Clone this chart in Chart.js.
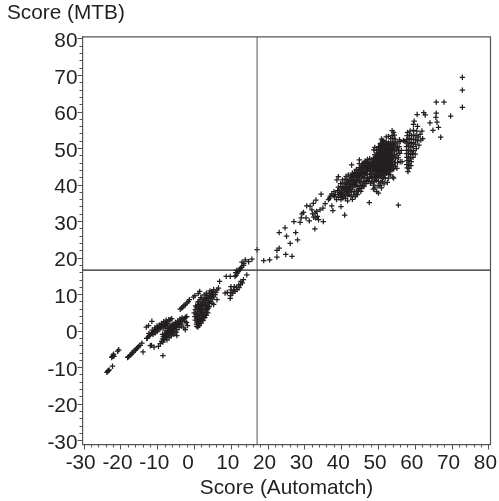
<!DOCTYPE html>
<html><head><meta charset="utf-8">
<style>html,body{margin:0;padding:0;background:#fff}canvas{display:block}</style>
<script src="https://cdn.jsdelivr.net/npm/chart.js@4"></script></head>
<body><canvas id="c" width="499" height="501"></canvas>
<script>
const xTickLabels=['-30','-20','-10','0 ','10','20','30','40','50','60','70','80'];
const yTickLabels=['-30','-20','-10','0','10','20','30','40','50','60','70','80'];
const refX=17, refY=16.7;
const lowA=[[-23.8,-11.3],[-23.6,-11],[-23.4,-10.8],[-23.2,-10.6],[-22.3,-9.6],[-22.5,-7.2],[-22.3,-6.9],[-22.1,-6.6],[-22,-6.3],[-21.9,-6.9],[-20.9,-5.5],[-20.6,-5.1]];
const lowD=[[-18.2,-7.2],[-17.9,-7],[-17.6,-6.7],[-17.3,-6.4],[-17,-6],[-16.7,-5.8],[-16.4,-5.4],[-16.1,-5.2],[-15.8,-4.8],[-15.5,-4.6],[-15.2,-4.2],[-14.8,-3.9],[-14.3,-3.3],[-14,-5.7]];
const lowF=[[-13,-2],[-12.8,-1.9],[-12.5,-1.4],[-12.2,-1.2],[-12,-.9],[-11.7,-.6],[-11.4,-.5],[-11.1,-.1],[-10.9,.1],[-10.6,.3],[-10.3,.6],[-10,.9],[-9.8,1.1],[-9.5,1],[-9.3,1.5],[-9.1,1.2],[-8.8,1.8],[-8.6,1.4],[-8.3,2],[-8.1,1.7],[-7.8,2.4],[-7.6,1.9],[-7.3,2.6],[-7,3.1],[-6.6,3.1],[-7.4,2.1],[-6.2,3.4],[-13.1,1.1],[-12.5,1.5],[-11.6,2.7],[-9.9,.4],[-9.4,.6],[-8.9,1],[-8.4,1.1],[-7.9,1.4],[-9.6,1.6],[-9,2.1],[-8.4,2.6],[-7.7,3],[-12.4,-.6],[-11.3,-.9],[-10.7,-.5],[-10.2,-.1],[-10.8,.9],[-10.2,1.4],[-11.5,.3]];
const lowH=[[-8.9,-2.8],[-8.6,-3],[-8.7,-2.1],[-8.4,-2.4],[-8.5,-1.5],[-8.1,-2],[-8.2,-1],[-7.9,-1.4],[-7.8,-.7],[-7.6,-1.6],[-7.5,-1],[-7.4,-.3],[-7.2,-.7],[-7.1,0],[-6.9,-.5],[-6.8,.3],[-6.6,-.2],[-6.5,.6],[-6.3,.1],[-6.2,.9],[-6,.4],[-5.9,1.2],[-5.7,.7],[-5.6,1.4],[-5.4,1],[-5.2,1.6],[-5,1.3],[-4.9,2],[-4.7,1.6],[-4.5,2.2],[-4.3,2],[-4.1,2.6],[-3.9,2.3],[-3.7,2.9],[-3.4,2.8],[-3.1,3.3],[-2.8,3.4],[-2.5,3.8],[-2.1,4],[-3.5,1.9],[-2.6,2.6],[-6.7,-1],[-6,-.6],[-5.4,-.1],[-4.8,.4],[-4.2,1],[-3.6,1.4],[-7,.9],[-6.4,1.4],[-5.8,1.9],[-5.2,2.4],[-4.6,2.8],[-4,3.3],[-3.4,3.7],[-7.5,-2.4],[-6.9,-1.8],[-6.3,-1.3],[-5.6,-.8],[-5,-.3],[-8.7,-.9],[-8,.1],[-7.4,.7],[-6.7,1.3],[-6.1,1.7]];
const lowI=[[-12,-4],[-11.7,-3.9],[-11,-4.4],[-9.8,-4.2],[-9.3,-3.4],[-8.6,-6.7],[-4.8,-1.2],[-2.5,.4],[-1.9,1.5],[-2.9,.9],[-2.2,2.4]];
const lowJ=[[-3.9,6],[-3.5,6.3],[-3.2,6.6],[-2.9,7],[-2.5,7.2],[-2.1,7.7],[-1.7,8.1],[-1.4,8.6],[-.3,9.3],[.1,9.7],[1,10.3],[1.4,10.9]];
const lowL=[[.6,1.3],[.9,1.1],[.5,1.9],[1.1,1.7],[.7,2.5],[1.4,2.1],[.9,3],[1.6,2.7],[1.2,3.5],[1.9,3.2],[.6,3.6],[1.5,4.1],[2.2,3.6],[.9,4.2],[1.9,4.6],[2.5,4.1],[.4,4.6],[1.2,4.9],[2.2,5.1],[2.9,4.6],[.7,5.3],[1.6,5.5],[2.6,5.5],[3.3,5.2],[.2,5.9],[1,6],[1.9,6.1],[2.9,6.1],[3.4,5.9],[.5,6.6],[1.3,6.7],[2.2,6.8],[3.2,6.6],[.9,7.3],[1.7,7.4],[2.6,7.3],[3.6,7.1],[1.2,8],[2.1,8],[3,7.9],[4,7.6],[1.5,8.6],[2.5,8.6],[3.4,8.4],[4.4,8.2],[2,9.2],[2.9,9.2],[3.8,9],[4.8,8.8],[2.6,9.9],[3.4,9.8],[4.2,9.6],[5.2,9.4],[3.2,10.4],[4,10.3],[4.8,10.1],[5.6,10],[4.2,11],[5,10.8],[5.8,10.6],[5.2,11.4],[6.1,11.3],[6.5,11.8],[6.1,8.6],[6.8,13.6],[4.7,7.7],[5.2,7.3],[2.2,6.1],[1.4,6.2],[3.7,6.3],[1.3,1.5],[1.8,2.2],[2.3,2.9],[2.8,3.7],[3.2,4.3],[3.6,5],[.8,6.3],[1.7,7],[2.5,7.8],[3.3,8.9],[4.3,9.2],[5,9.9],[2.4,4.5],[1.1,3.1],[3.1,7],[3.8,7.9],[4.6,10.5],[-.1,5],[.1,4],[.2,3],[.3,6.9],[.9,8],[1.7,9.2],[4,6.7]];
const lowN=[[8.3,10.4],[8.9,10.6],[9.7,9],[9.8,9.7],[9.9,10.5],[9.9,11.3],[9.9,12.2],[10.4,10.4],[10.6,11.3],[10.8,12.2],[11,10.9],[11.4,12],[11.6,11.4],[12,12.6],[12.1,11.9],[12.5,12.8],[12.6,13.6],[13,13.2],[13.3,14.1],[8.6,15],[9.7,15],[14.2,15.4]];
const lowP=[[11,15],[11.3,15.3],[11.2,16],[11.6,15.9],[11.9,16.3],[11.5,16.7],[12.2,16.8],[12.5,17.2],[12.8,17.5],[12.9,18.9],[13.4,18.5],[13.8,19.5],[13.3,18],[14.7,19],[15.6,19.7],[17,22.3]];
const midT=[[18.8,19.3],[20.4,19.5],[22.4,20.3],[22.4,22.1],[23,22.7],[23,27],[24.6,28.3],[25,26],[24.8,21],[26.5,20.5],[26,24],[27,30],[27.5,27],[28,25],[28.7,29.8],[29,31]];
const upTail=[[72.8,69.5],[72.8,66],[72.8,61.3],[65.7,62.7],[67.8,62.7],[69.6,58.9],[60.5,59.3],[62.3,59.8],[62.7,59.2],[65.7,59.7],[65.6,58.5],[65.9,57.2],[64,57],[66.3,55.8],[64.8,55],[66.9,53.1],[55.4,34.5],[47.5,35.2],[40.8,31.8],[35,30],[37.6,33],[37.3,34.3],[39.8,34.1],[34.4,37.5],[32.7,28]];
const upLeft=[[30.5,34.3],[31.4,34.2],[32.3,35],[33,35.9],[29.6,32.5],[29.2,32.1],[30.3,31],[31.2,30.2],[32.1,32.1],[32.8,32.3],[33.4,31.4],[33.7,30.5],[34.1,33.2],[34.9,33.7],[35.5,34.9],[36.4,36],[32.4,31.2],[32.9,31],[33.2,32.8],[31.9,33.2],[36.9,37],[37.3,37.6],[37.7,37.1],[37.9,38.2],[38.3,37.4],[36.7,36.4],[38.1,36.8]];
const upBandL=[[38.6,36],[39.2,36.6],[39.8,36],[40.3,36.5],[41,36.3],[39,37.4],[39.6,37.6],[40.2,37.4],[40.9,37.6],[41.5,37.1],[42,37.4],[38.9,38.5],[39.5,38.6],[40.1,38.4],[40.7,38.6],[41.3,38.2],[42,38.5],[42.6,38.1],[39.1,39.4],[39.8,39.6],[40.4,39.3],[41,39.6],[41.7,39.3],[42.3,39.6],[43,39.2],[39.7,40.4],[40.3,40.6],[40.9,40.3],[41.5,40.6],[42.1,40.3],[42.8,40.6],[43.4,40.2],[44,40.6],[39.1,42.3],[38.7,41.4],[40.2,41.4],[40.9,41.6],[41.5,41.3],[42.1,41.6],[42.8,41.3],[43.4,41.6],[44.1,41.3],[44.7,41.6],[41.8,42.8],[41.2,42.4],[42.4,42.5],[43.1,42.3],[43.7,42.6],[44.3,42.3],[44.9,42.6],[45.5,42.3],[42.9,43.3],[43.5,43.4],[44.1,43.2],[44.7,43.5],[45.3,43.2],[45.9,43.5],[46.4,43.1],[44,44.3],[44.6,44.1],[45.2,44.4],[45.8,44.2],[46.4,44.4],[47,44.1],[42.7,45.5],[44.8,46.9],[44.8,45.9],[45.3,45.2],[45.9,45.3],[46.5,45.2],[47.1,45.4],[47.6,45],[46.1,46.2],[46.8,46.1],[47.4,46.3],[48,46],[47,47],[47.6,47.2],[48.2,46.9],[41.6,35.7],[43.4,38.2],[44.4,39.6],[45.2,40.6]];
const upFillL=[[40,37.9],[40.6,37],[41.2,38.9],[41.9,39],[42.5,40],[43.1,40],[43.7,39.9],[43,41],[43.6,41],[44.2,42],[44.9,41.1],[45.4,41.8],[45.1,42.9],[45.6,43.8],[46.1,42.7],[46.7,43.7],[47.2,44.7],[47.8,44.4],[46.6,44.9],[46,44.8],[47.3,45.9],[47.9,45.6],[40.6,39],[41.3,40.1],[42,41],[42.6,42],[43.2,42.9],[44,43.9],[44.9,44.8],[45.6,45.8],[46.4,46.5],[41.8,37.9],[42.4,38.8],[43.7,40.9],[40,36.9],[39.3,37.9]];
const upEdgeL=[[42.5,36.9],[43.2,37.3],[43.9,37.6],[44.5,38.2],[44.1,38.6],[44.8,39],[45.4,39.1],[45,39.9],[45.7,40],[46.3,40.5],[46,41.1],[46.7,41.2],[46.3,42],[47,42],[47.5,41.8],[46.9,42.9],[47.6,43],[48,42.4],[47.7,43.9],[42.9,36.1],[43.7,36.8],[44.3,37.4],[45.2,38.3],[46,39.6],[46.6,40.4],[47.2,41],[47.6,41.9],[48.2,41],[47.8,40.5],[48.7,40]];
const upBandR=[[48.8,40.9],[49.4,41.2],[50,41],[50.6,40.6],[51.1,41],[52.4,40.7],[49.5,38.2],[50,37.8],[49.9,39.8],[50.4,39.9],[48.3,42],[48.9,42.2],[49.5,42.1],[50.1,42.3],[50.7,41.9],[51.3,42.1],[51.8,41.8],[53.9,42.2],[48,43],[48.6,43.3],[49.2,43],[49.8,43.3],[50.4,43],[51,43.3],[51.6,42.9],[52.2,43.2],[52.8,42.9],[48.3,44.1],[48.9,44.3],[49.5,44],[50.1,44.3],[50.7,44],[51.3,44.3],[51.9,44],[52.5,44.3],[53.1,44],[53.7,44.2],[48,45.1],[48.6,45.3],[49.2,45],[49.8,45.3],[50.4,45],[51,45.3],[51.6,45],[52.2,45.3],[52.8,45],[53.4,45.3],[54,45],[55,44.6],[54.1,44.4],[48.4,46.2],[49,46.4],[49.6,46.1],[50.2,46.4],[50.8,46.1],[51.4,46.4],[52,46.1],[52.6,46.4],[53.2,46.1],[53.8,46.4],[54.4,46.1],[55.9,46.4],[48.6,47.3],[49.2,47.5],[49.8,47.2],[50.4,47.5],[51,47.2],[51.6,47.5],[52.2,47.2],[52.8,47.5],[53.4,47.2],[54,47.5],[54.6,47.2],[49,48.3],[49.6,48.5],[50.2,48.2],[50.8,48.5],[51.4,48.2],[52,48.5],[52.6,48.2],[53.2,48.5],[53.8,48.2],[54.4,48.5],[55,48.2],[49.5,49.4],[50.1,49.6],[50.7,49.3],[51.3,49.6],[51.9,49.3],[52.5,49.6],[53.1,49.3],[53.7,49.6],[54.3,49.3],[54.9,49.6],[55.4,49.4],[50.3,50.4],[50.9,50.7],[51.5,50.4],[52.1,50.7],[52.7,50.4],[53.3,50.7],[53.9,50.4],[54.5,50.7],[55.1,50.4],[50.9,51],[51.5,51.5],[52.1,51.8],[52.7,51.5],[53.3,51.8],[53.9,51.5],[54.5,51.8],[55.1,51.5],[51.2,52.2],[52.7,53.3],[53.3,52.7],[53.9,52.8],[54.5,52.6],[55.7,52.4],[56.8,52.2],[54.1,54.4],[53.7,53.6],[54.3,53.7]];
const upFillR=[[49.1,41.7],[49.7,42.6],[50.3,42.8],[50.9,42.6],[51.5,42.7],[48.7,43.8],[49.3,43.7],[49.9,43.8],[50.5,43.6],[51.1,43.8],[51.7,43.5],[52.3,43.8],[52.9,43.6],[48.5,44.7],[49.1,44.8],[49.7,44.7],[50.3,44.8],[50.9,44.6],[51.5,44.8],[52.1,44.6],[52.7,44.8],[53.3,44.6],[48.8,45.7],[49.4,45.8],[50,45.7],[50.6,45.8],[51.2,45.7],[51.8,45.8],[52.4,45.7],[53,45.8],[53.6,45.7],[49.2,46.9],[49.8,46.8],[50.4,46.9],[51,46.8],[51.6,46.9],[52.2,46.8],[52.8,46.9],[53.4,46.8],[49.4,47.9],[50,47.9],[50.6,47.9],[51.2,47.8],[51.8,47.9],[52.4,47.8],[53,47.9],[53.6,47.8],[49.9,48.9],[50.5,48.9],[51.1,48.8],[51.7,48.9],[52.3,48.8],[52.9,48.9],[53.5,48.8],[50.4,49.9],[51,50],[51.6,49.9],[52.2,50],[52.8,49.9],[53.4,50],[54,49.9],[51.2,51],[51.8,50.9],[52.4,51.1],[53,51],[53.6,51],[54.2,51]];
const upEdgeR=[[48.7,49.6],[50,50.5],[49,50.3],[50.5,51.4],[51.4,51.9],[50.8,52.6],[52.1,53.2],[53.7,54.9],[55.9,51.9],[55.6,50.5],[56.2,49.5],[55.8,48.7],[56.4,46.4],[55.4,47.5],[55.2,46.2],[54.6,45.2],[54.1,41.9],[53.2,42.8],[52.7,41.9],[51.5,40.3],[50.8,39.2],[49,39.2],[48.6,38.9]];
const upColumn=[[59.7,57.5],[59.5,56.6],[60.6,56.1],[57.9,54.4],[58.6,54.8],[59.5,55],[60.4,54.8],[61.8,54.8],[61.3,53.9],[62,52.7],[61.5,52.3],[57.8,53.5],[58.4,53.7],[59,53.5],[59.6,53.7],[60.2,53.5],[60.8,53.1],[57.7,52.5],[58.3,52.7],[58.9,52.5],[59.5,52.6],[60.1,52.4],[60.6,52.1],[57.8,51.5],[58.3,51.7],[58.9,51.4],[59.5,51.6],[60,51.2],[61,50.9],[57.6,50.5],[58.2,50.7],[58.8,50.4],[59.4,50.5],[60.3,50],[57.7,49.5],[58.2,49.6],[58.8,49.3],[59.5,49.4],[57.6,48.6],[58.1,48.7],[58.7,48.4],[59.2,48.6],[60,48.5],[57.7,47.6],[58.2,47.7],[58.7,47.4],[59.4,47.6],[57.8,46.7],[58.3,46.6],[58.9,46.4],[57.7,45.6],[58.2,45.7],[58.8,45.3],[57.8,44.7],[58.3,44.6],[58,43.7],[57.2,51.9]];
const allPoints=[lowA,lowD,lowF,lowH,lowI,lowJ,lowL,lowN,lowP,midT,upTail,upLeft,upBandL,upFillL,upEdgeL,upBandR,upFillR,upEdgeR,upColumn].flat().map(p=>({x:p[0],y:p[1]}));
const xMin=-30.45,xMax=80.44,yMin=-31.04,yMax=80.55;
const ink='#231f20',axisGrey='#555555';
const font={family:'"Liberation Sans",Arial,sans-serif',size:20.8};
const frame={id:'frame',afterDatasetsDraw(c){const a=c.chartArea,g=c.ctx;g.save();g.strokeStyle=axisGrey;g.lineWidth=1.2;g.beginPath();g.moveTo(a.left,a.top);g.lineTo(a.right,a.top);g.lineTo(a.right,a.bottom);g.stroke();g.restore();}};
const noPadX=s=>{s.paddingLeft=0;s.paddingRight=0};
const noPadY=s=>{s.paddingTop=0;s.paddingBottom=0};
new Chart(document.getElementById('c'),{type:'scatter',plugins:[frame],data:{datasets:[
 {label:'Scores',data:allPoints,pointStyle:'cross',pointRadius:2.7,pointBorderWidth:1.25,borderColor:ink,backgroundColor:ink,pointBorderColor:ink,clip:false,order:2},
 {label:'Ref Automatch',type:'line',data:[{x:refX,y:yMin},{x:refX,y:yMax}],borderColor:axisGrey,borderWidth:1,pointRadius:0,order:1},
 {label:'Ref MTB',type:'line',data:[{x:xMin,y:refY},{x:xMax,y:refY}],borderColor:ink,borderWidth:1.4,pointRadius:0,order:1}
]},options:{responsive:false,animation:false,layout:{padding:{left:7,right:8.5,top:0,bottom:0}},
 plugins:{legend:{display:false},tooltip:{enabled:false},
  title:{display:true,text:'Score (MTB)',align:'start',color:ink,font:{...font,weight:'normal'},padding:{top:1,bottom:11}}},
 scales:{
  x:{type:'linear',min:xMin,max:xMax,afterFit:s=>{s.height=56.5;noPadX(s)},grid:{drawOnChartArea:false,tickLength:5,tickColor:axisGrey},border:{display:true,color:axisGrey,width:1.2},
     title:{display:true,text:'Score (Automatch)',color:ink,font,padding:{top:0,bottom:0}},
     ticks:{stepSize:10,includeBounds:false,autoSkip:false,maxRotation:0,color:ink,font,padding:1,labelOffset:-3.5,callback:(v,i)=>xTickLabels[i]}},
  x2:{type:'linear',position:'bottom',weight:-1,min:xMin,max:xMax,afterFit:s=>{s.height=0;noPadX(s)},grid:{drawOnChartArea:false,tickLength:3,tickColor:axisGrey},border:{display:false},ticks:{stepSize:2,includeBounds:false,autoSkip:false,maxRotation:0,callback:()=>'',padding:0}},
  y:{type:'linear',min:yMin,max:yMax,afterFit:s=>{s.width=75.5;noPadY(s)},grid:{drawOnChartArea:false,tickLength:5,tickColor:axisGrey},border:{display:true,color:axisGrey,width:1.2},
     ticks:{stepSize:10,includeBounds:false,autoSkip:false,color:ink,font,padding:0,labelOffset:2.5,callback:(v,i)=>yTickLabels[i]}},
  y2:{type:'linear',position:'left',weight:-1,min:yMin,max:yMax,afterFit:s=>{s.width=0;noPadY(s)},grid:{drawOnChartArea:false,tickLength:3,tickColor:axisGrey},border:{display:false},ticks:{stepSize:2,includeBounds:false,autoSkip:false,callback:()=>'',padding:0}}
 }}});
</script></body></html>
